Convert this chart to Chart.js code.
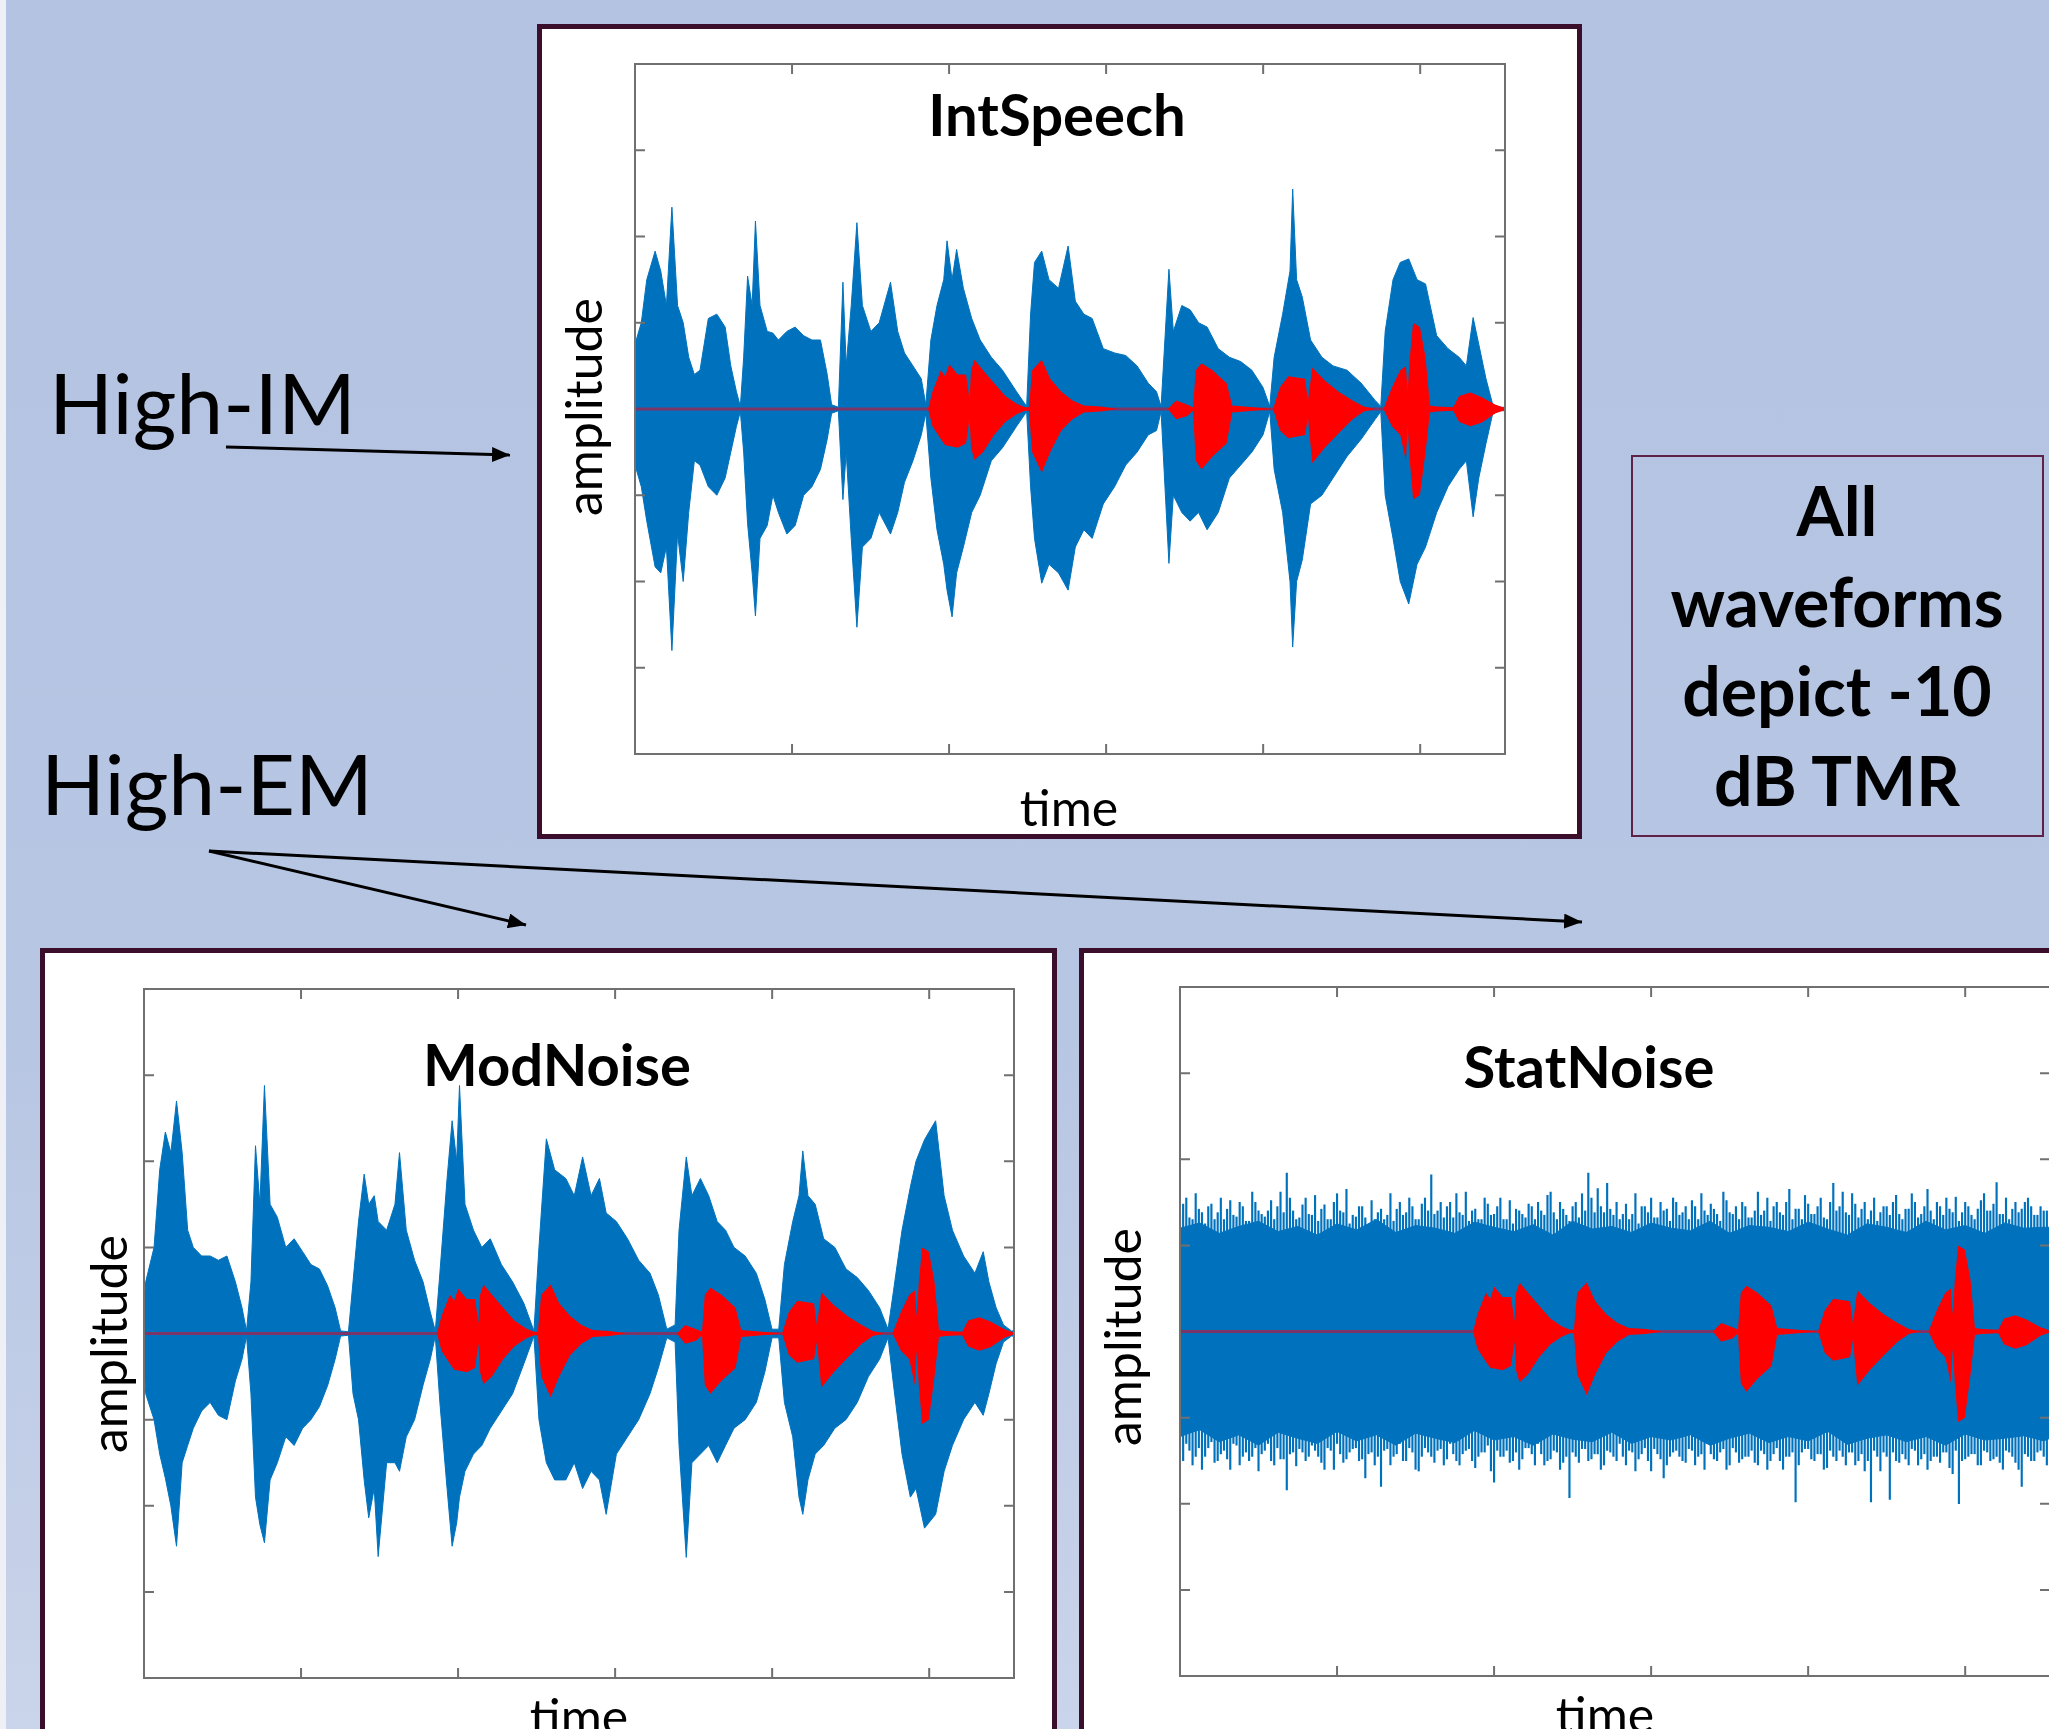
<!DOCTYPE html>
<html lang="en">
<head>
<meta charset="UTF-8">
<title>Waveforms at -10 dB TMR</title>
<script src="https://cdn.jsdelivr.net/npm/chart.js"></script>
<style>
  html, body { margin: 0; padding: 0; overflow: hidden; }
  #slide {
    position: relative; width: 2049px; height: 1729px; overflow: hidden;
    background: linear-gradient(to bottom, #b3c3e1 0%, #b7c6e3 60%, #cad4ea 100%);
  }
  .strip { position: absolute; left: 0; top: 0; width: 6px; height: 100%; background: #eef0f6; }
  .panel { position: absolute; background: #fff; border: 5px solid #3b0f2c; box-sizing: border-box; }
  canvas { position: absolute; }
  svg { position: absolute; left: 0; top: 0; }
</style>
</head>
<body>
<div id="slide">
  <div class="strip"></div>
  <div class="panel" style="left:537px;top:24px;width:1045px;height:815px"></div>
  <div class="panel" style="left:40px;top:948px;width:1017px;height:830px"></div>
  <div class="panel" style="left:1079px;top:948px;width:1000px;height:830px"></div>

  <canvas id="intSpeech" width="882" height="702" style="left:629px;top:58px"></canvas>
  <canvas id="modNoise" width="882" height="701" style="left:138px;top:983px"></canvas>
  <canvas id="statNoise" width="882" height="701" style="left:1174px;top:981px"></canvas>

  <svg width="2049" height="1729">
    <defs>
      <marker id="head" viewBox="0 0 12 10" refX="12" refY="5" markerWidth="18" markerHeight="15"
              markerUnits="userSpaceOnUse" orient="auto">
        <path d="M0,0 L12,5 L0,10 z" fill="#000"/>
      </marker>
    </defs>
    <g font-family="Lato, 'Open Sans', sans-serif" fill="#000">
      <text x="49" y="434" font-size="84">High-IM</text>
      <text x="41" y="815" font-size="84">High-EM</text>

      <line x1="226" y1="447" x2="510" y2="455" stroke="#000" stroke-width="3" marker-end="url(#head)"/>
      <line x1="209" y1="851" x2="526" y2="925" stroke="#000" stroke-width="3" marker-end="url(#head)"/>
      <line x1="209" y1="851" x2="1582" y2="922" stroke="#000" stroke-width="3" marker-end="url(#head)"/>

      <rect x="1632" y="456" width="411" height="380" fill="none" stroke="#5e2148" stroke-width="2"/>
      <g font-weight="700" font-size="68" text-anchor="middle">
        <text x="1837" y="536">All</text>
        <text x="1837" y="627">waveforms</text>
        <text x="1837" y="716">depict -10</text>
        <text x="1837" y="806">dB TMR</text>
      </g>

      <g font-weight="700" font-size="58" text-anchor="middle">
        <text x="1057" y="136">IntSpeech</text>
        <text x="557" y="1086">ModNoise</text>
        <text x="1589" y="1088">StatNoise</text>
      </g>

      <g font-size="50" text-anchor="middle">
        <text x="1069" y="826">time</text>
        <text x="579" y="1735">time</text>
        <text x="1605" y="1733">time</text>
        <text transform="translate(602,407) rotate(-90)">amplitude</text>
        <text transform="translate(127,1344) rotate(-90)">amplitude</text>
        <text transform="translate(1141,1337) rotate(-90)">amplitude</text>
      </g>
    </g>
  </svg>
</div>

<script>
// axes: time runs 0..X_MAX (tick spacing 1), amplitude -4..4
const X_MAX = 5.54;
const xTicks = [1, 2, 3, 4, 5];
const yTicks = [-3, -2, -1, 1, 2, 3];

// IntSpeech masker (blue) envelope
const isTime = [
  0, 0.04, 0.075, 0.128, 0.164, 0.2, 0.235, 0.271, 0.307, 0.342,
  0.378, 0.414, 0.467, 0.521, 0.574, 0.61, 0.646, 0.671, 0.692, 0.717,
  0.746, 0.767, 0.796, 0.842, 0.878, 0.913, 0.967, 1.02, 1.074, 1.127,
  1.181, 1.224, 1.252, 1.295, 1.324, 1.345, 1.377, 1.413, 1.448, 1.502,
  1.555, 1.627, 1.673, 1.716, 1.77, 1.823, 1.852, 1.884, 1.923, 1.966,
  1.987, 2.019, 2.048, 2.091, 2.144, 2.198, 2.269, 2.34, 2.43, 2.494,
  2.519, 2.544, 2.59, 2.636, 2.697, 2.758, 2.804, 2.858, 2.911, 2.982,
  3.054, 3.125, 3.197, 3.268, 3.321, 3.35, 3.4, 3.428, 3.482, 3.535,
  3.589, 3.643, 3.714, 3.785, 3.857, 3.928, 3.999, 4.042, 4.07, 4.124,
  4.171, 4.188, 4.213, 4.249, 4.302, 4.374, 4.445, 4.534, 4.624, 4.713,
  4.749, 4.777, 4.827, 4.873, 4.927, 4.98, 5.034, 5.105, 5.177, 5.248,
  5.294, 5.337, 5.373, 5.419, 5.462, 5.516, 5.54
];
const isUpper = [
  .75, 1.0, 1.5, 1.83, 1.6, 1.2, 2.34, 1.2, 1.0, .6,
  .4, .45, 1.05, 1.1, .95, .5, .2, .03, .6, 1.54,
  1.2, 2.18, 1.2, .9, .88, .8, .9, .95, .85, .8,
  .8, .4, .05, .02, 1.47, .5, 1.2, 2.16, 1.2, .9,
  1.0, 1.47, .9, .65, .5, .35, .05, .8, 1.2, 1.5,
  1.95, 1.5, 1.85, 1.4, 1.05, .8, .6, .45, .2, .03,
  1.1, 1.7, 1.83, 1.5, 1.4, 1.89, 1.25, 1.1, 1.05, .7,
  .65, .62, .5, .3, .2, .03, 1.62, .9, 1.2, 1.15,
  1.0, .95, .7, .6, .55, .45, .25, .03, .6, 1.1,
  1.6, 2.55, 1.5, 1.3, .8, .6, .5, .45, .3, .1,
  .03, .9, 1.5, 1.7, 1.74, 1.5, 1.45, .85, .7, .6,
  .5, 1.06, .75, .35, .05, .02, .02
];
const isLower = [
  -.65, -.9, -1.3, -1.83, -1.9, -1.6, -2.8, -1.45, -2.0, -1.2,
  -.6, -.65, -.9, -1.0, -.8, -.5, -.2, -.03, -.5, -1.33,
  -1.9, -2.4, -1.5, -1.35, -1.0, -1.2, -1.45, -1.35, -1.0, -.9,
  -.7, -.35, -.05, -.02, -1.05, -.5, -1.5, -2.53, -1.6, -1.5,
  -1.2, -1.45, -1.2, -.85, -.6, -.3, -.05, -.8, -1.4, -1.8,
  -2.1, -2.41, -1.9, -1.6, -1.2, -1.0, -.6, -.45, -.2, -.03,
  -.9, -1.5, -2.02, -1.8, -1.9, -2.1, -1.6, -1.4, -1.5, -1.1,
  -.9, -.65, -.5, -.3, -.25, -.03, -1.79, -1.0, -1.2, -1.3,
  -1.2, -1.4, -1.2, -.8, -.65, -.5, -.3, -.03, -.7, -1.2,
  -2.0, -2.76, -2.0, -1.75, -1.1, -1.0, -.8, -.55, -.35, -.12,
  -.03, -1.0, -1.5, -2.0, -2.26, -1.8, -1.6, -1.2, -.9, -.7,
  -.6, -1.25, -.8, -.4, -.05, -.02, -.02
];

// ModNoise masker (blue) envelope
const mnTime = [
  0, 0.011, 0.064, 0.1, 0.136, 0.171, 0.207, 0.243, 0.278, 0.314,
  0.367, 0.421, 0.474, 0.528, 0.582, 0.624, 0.653, 0.681, 0.71, 0.738,
  0.767, 0.803, 0.849, 0.903, 0.956, 1.01, 1.063, 1.117, 1.17, 1.217,
  1.252, 1.302, 1.331, 1.366, 1.402, 1.431, 1.466, 1.491, 1.545, 1.598,
  1.627, 1.67, 1.723, 1.777, 1.823, 1.855, 1.884, 1.93, 1.962, 1.991,
  2.009, 2.044, 2.098, 2.151, 2.205, 2.276, 2.347, 2.419, 2.483, 2.515,
  2.562, 2.615, 2.686, 2.74, 2.793, 2.847, 2.9, 2.943, 3.008, 3.079,
  3.15, 3.222, 3.275, 3.329, 3.382, 3.407, 3.453, 3.489, 3.543, 3.596,
  3.65, 3.703, 3.757, 3.828, 3.899, 3.953, 3.999, 4.042, 4.078, 4.131,
  4.171, 4.195, 4.228, 4.274, 4.328, 4.399, 4.47, 4.542, 4.613, 4.684,
  4.738, 4.773, 4.827, 4.88, 4.916, 4.97, 5.041, 5.095, 5.148, 5.219,
  5.291, 5.344, 5.38, 5.426, 5.473, 5.523, 5.54
];
const mnUpper = [
  .33, .6, 1.0, 1.9, 2.34, 2.1, 2.7, 2.1, 1.2, 1.0,
  .9, .9, .85, .9, .6, .3, .03, .6, 2.18, 1.5,
  2.88, 1.5, 1.35, 1.0, 1.1, .95, .8, .75, .55, .3,
  .03, .02, .6, 1.3, 1.85, 1.5, 1.6, 1.3, 1.2, 1.5,
  2.1, 1.2, .85, .6, .25, .03, .7, 1.8, 2.47, 2.0,
  2.88, 1.5, 1.2, 1.0, 1.1, .8, .6, .35, .03, 1.0,
  2.26, 1.9, 1.8, 1.6, 2.05, 1.6, 1.8, 1.4, 1.3, 1.1,
  .85, .7, .45, .05, .1, 1.2, 2.05, 1.6, 1.8, 1.6,
  1.3, 1.2, 1.0, .9, .7, .4, .05, .05, .8, 1.3,
  1.6, 2.12, 1.6, 1.5, 1.1, 1.0, .75, .65, .5, .3,
  .05, .5, 1.2, 1.7, 2.0, 2.25, 2.47, 1.6, 1.2, .9,
  .7, .95, .6, .3, .1, .03, .03
];
const mnLower = [
  -.35, -.7, -1.0, -1.4, -1.68, -2.0, -2.47, -1.5, -1.3, -1.1,
  -.9, -.8, -.95, -1.0, -.55, -.3, -.03, -.7, -1.9, -2.22,
  -2.43, -1.7, -1.5, -1.2, -1.3, -1.1, -1.0, -.85, -.6, -.3,
  -.03, -.02, -.7, -1.0, -1.7, -2.14, -1.8, -2.59, -1.5, -1.5,
  -1.6, -1.2, -1.0, -.6, -.3, -.03, -.8, -1.8, -2.47, -2.2,
  -1.9, -1.6, -1.4, -1.3, -1.1, -.9, -.7, -.35, -.03, -1.0,
  -1.5, -1.7, -1.7, -1.5, -1.8, -1.6, -1.7, -2.1, -1.4, -1.2,
  -1.0, -.7, -.4, -.05, -.1, -1.3, -2.6, -1.5, -1.4, -1.3,
  -1.5, -1.3, -1.1, -1.0, -.8, -.45, -.05, -.05, -.8, -1.2,
  -1.9, -2.1, -1.7, -1.4, -1.3, -1.1, -1.0, -.8, -.5, -.3,
  -.05, -.6, -1.4, -1.9, -1.8, -2.26, -2.1, -1.6, -1.3, -1.0,
  -.8, -.95, -.7, -.35, -.1, -.03, -.03
];

// StatNoise masker (blue): dense core plus two interleaved rows of fringe spikes
const SN_CORE_STEP = 0.125;
const snCoreUpper = [
  1.2, 1.26, 1.14, 1.22, 1.28, 1.16, 1.22, 1.12, 1.25, 1.18,
  1.3, 1.15, 1.23, 1.2, 1.14, 1.27, 1.21, 1.16, 1.24, 1.12,
  1.28, 1.19, 1.22, 1.15, 1.26, 1.2, 1.17, 1.28, 1.14, 1.23,
  1.21, 1.16, 1.27, 1.19, 1.12, 1.25, 1.21, 1.15, 1.28, 1.18,
  1.23, 1.14, 1.26, 1.2, 1.21, 1.21
];
const snCoreLower = [
  -1.22, -1.14, -1.28, -1.2, -1.32, -1.17, -1.24, -1.3, -1.16, -1.27,
  -1.2, -1.32, -1.18, -1.24, -1.29, -1.15, -1.26, -1.22, -1.32, -1.19,
  -1.25, -1.28, -1.17, -1.3, -1.22, -1.26, -1.2, -1.32, -1.24, -1.18,
  -1.29, -1.22, -1.27, -1.16, -1.31, -1.24, -1.2, -1.28, -1.22, -1.32,
  -1.19, -1.26, -1.24, -1.21, -1.27, -1.24
];
const SN_SPIKE_STEP = 0.04;
const snSpikeTop = [
  1.35, 1.55, 1.3, 1.42, 1.25, 1.48, 1.38, 1.3, 1.52, 1.33,
  1.45, 1.28, 1.5, 1.36, 1.4, 1.3, 1.62, 1.84, 1.4, 1.32,
  1.55, 1.35, 1.28, 1.47, 1.3, 1.6, 1.38, 1.25, 1.33, 1.45,
  1.2, 1.3, 1.42, 1.35, 1.28, 1.5, 1.38, 1.45, 1.3, 1.55,
  1.82, 1.4, 1.32, 1.5, 1.6, 1.35, 1.28, 1.42, 1.3, 1.48,
  1.36, 1.55, 1.3, 1.25, 1.4, 1.32, 1.45, 1.5, 1.35, 1.62,
  1.3, 1.42, 1.28, 1.5, 1.6, 1.84, 1.38, 1.45, 1.72, 1.35,
  1.3, 1.48, 1.36, 1.25, 1.45, 1.55, 1.32, 1.4, 1.28, 1.5,
  1.38, 1.3, 1.45, 1.6, 1.35, 1.42, 1.28, 1.52, 1.36, 1.3,
  1.45, 1.32, 1.62, 1.4, 1.28, 1.5, 1.35, 1.65, 1.42, 1.3,
  1.48, 1.36, 1.55, 1.3, 1.72, 1.45, 1.38, 1.6, 1.32, 1.5,
  1.4, 1.28, 1.45, 1.35, 1.58, 1.3, 1.42, 1.5, 1.36, 1.65,
  1.3, 1.45, 1.55, 1.38, 1.28, 1.5, 1.35, 1.42, 1.6, 1.4,
  1.73, 1.36, 1.3, 1.5, 1.42, 1.55, 1.35, 1.45, 1.4
];
const snSpikeBottom = [
  -1.4, -1.3, -1.55, -1.35, -1.45, -1.28, -1.5, -1.38, -1.6, -1.32,
  -1.45, -1.5, -1.35, -1.42, -1.3, -1.55, -1.48, -1.84, -1.4, -1.36,
  -1.5, -1.32, -1.45, -1.6, -1.38, -1.3, -1.52, -1.4, -1.35, -1.48,
  -1.42, -1.55, -1.8, -1.36, -1.45, -1.3, -1.5, -1.4, -1.62, -1.35,
  -1.45, -1.38, -1.55, -1.3, -1.5, -1.42, -1.36, -1.58, -1.4, -1.32,
  -1.75, -1.45, -1.38, -1.5, -1.6, -1.35, -1.42, -1.3, -1.55, -1.48,
  -1.4, -1.52, -1.93, -1.45, -1.36, -1.5, -1.42, -1.6, -1.38, -1.45,
  -1.3, -1.55, -1.4, -1.48, -1.35, -1.62, -1.42, -1.7, -1.45, -1.38,
  -1.5, -1.36, -1.55, -1.42, -1.3, -1.48, -1.4, -1.6, -1.35, -1.52,
  -1.45, -1.38, -1.55, -1.42, -1.5, -1.35, -1.6, -1.45, -1.98, -1.4,
  -1.36, -1.5, -1.42, -1.58, -1.45, -1.38, -1.55, -1.4, -1.5, -1.62,
  -1.98, -1.45, -1.4, -1.95, -1.5, -1.42, -1.55, -1.38, -1.48, -1.6,
  -1.45, -1.52, -1.4, -1.65, -2.0, -1.48, -1.42, -1.55, -1.38, -1.5,
  -1.45, -1.6, -1.4, -1.52, -1.8, -1.45, -1.5, -1.38, -1.55
];
// second row sits half a step later
const snSpikeTop2 = [
  1.48, 1.32, 1.6, 1.38, 1.45, 1.3, 1.55, 1.42, 1.35, 1.5,
  1.28, 1.62, 1.4, 1.33, 1.52, 1.45, 1.38, 1.55, 1.3, 1.47,
  1.36, 1.58, 1.42, 1.3, 1.5, 1.4, 1.65, 1.35, 1.45, 1.32,
  1.52, 1.38, 1.3, 1.6, 1.42, 1.35, 1.55, 1.3, 1.48, 1.4,
  1.36, 1.5, 1.45, 1.32, 1.38, 1.62, 1.4, 1.3, 1.55, 1.35,
  1.45, 1.3, 1.52, 1.42, 1.36, 1.48, 1.3, 1.4, 1.58, 1.38,
  1.5, 1.35, 1.45, 1.32, 1.4, 1.55, 1.66, 1.38, 1.42, 1.5,
  1.36, 1.3, 1.6, 1.45, 1.38, 1.32, 1.5, 1.42, 1.55, 1.35,
  1.45, 1.52, 1.3, 1.4, 1.48, 1.36, 1.62, 1.38, 1.45, 1.5,
  1.32, 1.4, 1.35, 1.55, 1.45, 1.38, 1.5, 1.3, 1.42, 1.58,
  1.36, 1.45, 1.32, 1.5, 1.4, 1.62, 1.35, 1.48, 1.42, 1.3,
  1.55, 1.38, 1.45, 1.5, 1.36, 1.42, 1.6, 1.32, 1.45, 1.4,
  1.5, 1.35, 1.42, 1.56, 1.38, 1.45, 1.3, 1.52, 1.4, 1.48,
  1.36, 1.55, 1.42, 1.38, 1.5, 1.45, 1.35, 1.4
];
const snSpikeBottom2 = [
  -1.5, -1.38, -1.45, -1.6, -1.35, -1.52, -1.42, -1.48, -1.3, -1.55,
  -1.4, -1.45, -1.62, -1.38, -1.5, -1.35, -1.48, -1.42, -1.56, -1.4,
  -1.45, -1.38, -1.52, -1.35, -1.6, -1.42, -1.48, -1.36, -1.5, -1.7,
  -1.4, -1.45, -1.38, -1.55, -1.42, -1.5, -1.35, -1.6, -1.45, -1.4,
  -1.52, -1.36, -1.48, -1.42, -1.55, -1.38, -1.5, -1.45, -1.4, -1.62,
  -1.38, -1.45, -1.52, -1.4, -1.48, -1.35, -1.55, -1.42, -1.5, -1.38,
  -1.6, -1.45, -1.4, -1.52, -1.36, -1.48, -1.42, -1.55, -1.4, -1.5,
  -1.45, -1.38, -1.62, -1.42, -1.5, -1.36, -1.48, -1.55, -1.4, -1.45,
  -1.52, -1.38, -1.45, -1.6, -1.42, -1.5, -1.36, -1.55, -1.4, -1.48,
  -1.45, -1.52, -1.38, -1.6, -1.42, -1.5, -1.45, -1.4, -1.55, -1.36,
  -1.48, -1.42, -1.6, -1.38, -1.5, -1.45, -1.4, -1.55, -1.42, -1.5,
  -1.38, -1.62, -1.45, -1.4, -1.52, -1.48, -1.36, -1.55, -1.42, -1.5,
  -1.45, -1.4, -1.58, -1.38, -1.5, -1.45, -1.42, -1.55, -1.4, -1.48,
  -1.52, -1.38, -1.45, -1.6, -1.42, -1.5, -1.4, -1.45
];

// target speech (red), the same sentence in all three panels
const tgtTime = [
  0, 1.866, 1.894, 1.948, 1.975, 2.001, 2.055, 2.108, 2.13, 2.14,
  2.162, 2.216, 2.287, 2.358, 2.43, 2.483, 2.508, 2.529, 2.59, 2.644,
  2.715, 2.786, 2.858, 2.965, 3.072, 3.393, 3.446, 3.518, 3.553, 3.571,
  3.607, 3.678, 3.767, 3.803, 3.88, 4.063, 4.106, 4.16, 4.267, 4.285,
  4.313, 4.392, 4.481, 4.57, 4.641, 4.713, 4.766, 4.82, 4.873, 4.909,
  4.92, 4.934, 4.955, 4.998, 5.034, 5.062, 5.105, 5.21, 5.248, 5.319,
  5.39, 5.48, 5.526, 5.54
];
const tgtUpper = [
  0, 0, .2, .45, .38, .52, .4, .4, .12, .45,
  .57, .45, .3, .15, .06, .02, .02, .45, .57, .35,
  .2, .1, .04, .03, 0, 0, .1, .05, .02, .45,
  .53, .45, .3, .04, .03, 0, .25, .38, .35, .1,
  .48, .33, .2, .1, .03, 0, 0, .25, .45, .5,
  .2, .6, 1.0, .95, .6, .04, .03, .02, .15, .19,
  .14, .05, .02, 0
];
const tgtLower = [
  0, 0, -.2, -.35, -.42, -.43, -.45, -.4, -.12, -.45,
  -.59, -.5, -.3, -.15, -.06, -.02, -.02, -.5, -.74, -.5,
  -.25, -.12, -.04, -.03, 0, 0, -.12, -.08, -.02, -.6,
  -.7, -.55, -.4, -.04, -.03, 0, -.25, -.34, -.3, -.1,
  -.63, -.45, -.28, -.12, -.03, 0, 0, -.2, -.3, -.6,
  -.2, -.6, -1.05, -1.0, -.5, -.04, -.03, -.02, -.15, -.2,
  -.16, -.05, -.02, 0
];

const BLUE = '#0072bd';
const RED = '#ff0000';
const ZERO_LINE = '#7c3568';
const TICK = 10;

function pts(times, values) {
  return times.map((t, i) => ({ x: t, y: values[i] }));
}

// two datasets: upper edge filled down to lower edge
function envelope(times, upper, lower, color, order, edge) {
  return [
    { data: pts(times, upper), borderColor: color, backgroundColor: color, borderWidth: edge, fill: '+1', order: order },
    { data: pts(times, lower), borderColor: color, backgroundColor: color, borderWidth: edge, fill: false, order: order }
  ];
}

function zeroLine() {
  return { data: [{ x: 0, y: 0 }, { x: X_MAX, y: 0 }], borderColor: ZERO_LINE, borderWidth: 3, fill: false, order: 3 };
}

function spikes(top, bottom, start) {
  return {
    type: 'bar',
    data: top.map((hi, i) => ({ x: start + i * SN_SPIKE_STEP, y: [bottom[i], hi] })),
    backgroundColor: BLUE,
    barThickness: 1.5,
    grouped: false,
    order: 6
  };
}

// matlab style box with inward ticks on all four sides
const axesBox = {
  id: 'axesBox',
  afterDatasetsDraw(chart) {
    const { ctx, chartArea: a, scales: { x, y } } = chart;
    ctx.save();
    ctx.strokeStyle = '#707070';
    ctx.lineWidth = 2;
    ctx.strokeRect(a.left, a.top, a.right - a.left, a.bottom - a.top);
    ctx.beginPath();
    xTicks.forEach(v => {
      const px = x.getPixelForValue(v);
      ctx.moveTo(px, a.bottom); ctx.lineTo(px, a.bottom - TICK);
      ctx.moveTo(px, a.top); ctx.lineTo(px, a.top + TICK);
    });
    yTicks.forEach(v => {
      const py = y.getPixelForValue(v);
      ctx.moveTo(a.left, py); ctx.lineTo(a.left + TICK, py);
      ctx.moveTo(a.right, py); ctx.lineTo(a.right - TICK, py);
    });
    ctx.stroke();
    ctx.restore();
  }
};

function waveChart(id, datasets) {
  return new Chart(document.getElementById(id), {
    type: 'line',
    data: { datasets: datasets },
    options: {
      responsive: false,
      animation: false,
      devicePixelRatio: 1,
      events: [],
      layout: { padding: 6 },
      elements: { point: { radius: 0 }, line: { tension: 0 } },
      plugins: { legend: { display: false }, tooltip: { enabled: false } },
      scales: {
        x: { type: 'linear', min: 0, max: X_MAX, offset: false, display: false },
        y: { min: -4, max: 4, display: false }
      }
    },
    plugins: [axesBox]
  });
}

waveChart('intSpeech', [
  ...envelope(isTime, isUpper, isLower, BLUE, 5, 1),
  zeroLine(),
  ...envelope(tgtTime, tgtUpper, tgtLower, RED, 1, 0)
]);

waveChart('modNoise', [
  ...envelope(mnTime, mnUpper, mnLower, BLUE, 5, 1),
  zeroLine(),
  ...envelope(tgtTime, tgtUpper, tgtLower, RED, 1, 0)
]);

const snCoreTime = snCoreUpper.map((_, i) => Math.min(i * SN_CORE_STEP, X_MAX));

waveChart('statNoise', [
  spikes(snSpikeTop, snSpikeBottom, 0),
  spikes(snSpikeTop2, snSpikeBottom2, SN_SPIKE_STEP / 2),
  ...envelope(snCoreTime, snCoreUpper, snCoreLower, BLUE, 5, 1),
  zeroLine(),
  ...envelope(tgtTime, tgtUpper, tgtLower, RED, 1, 0)
]);
</script>
</body>
</html>
